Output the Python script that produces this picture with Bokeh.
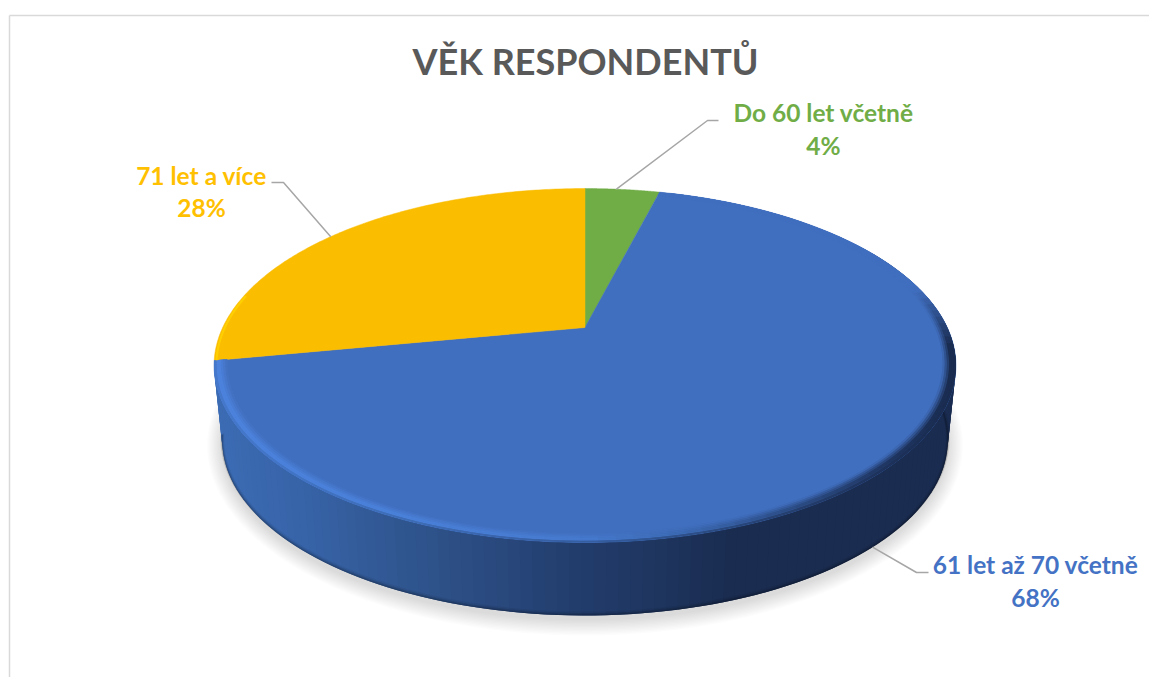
import numpy as np
from bokeh.plotting import figure
from bokeh.embed import file_html
from bokeh.resources import INLINE
from bokeh.core.properties import value

title = "VĚK RESPONDENTŮ"
categories = ["Do 60 let včetně", "61 let až 70 včetně", "71 let a více"]
shares = [4, 68, 28]
top_colors = ["#70ad47", "#416fbf", "#fbbd00"]
label_colors = ["#70ad47", "#4472c4", "#ffc000"]

# label layout: centre x, first-line y, second-line y, leader elbow, leader end
label_x = [823, 1035, 201]
label_y1 = [112, 564, 175]
label_y2 = [145, 597, 207]
elbow_x = [707, 916, 283]
elbow_y = [120, 572, 182]
end_x = [718, 928, 271]
anchor_frac = [0.42, 0.5, 0.479]

W, H = 1149, 677
p = figure(width=W, height=H, x_range=(0, W), y_range=(H, 0),
           output_backend="svg", toolbar_location=None, min_border=0,
           outline_line_color=None, background_fill_color="white", border_fill_color="white")
p.axis.visible = False
p.grid.visible = False

# projection of the tilted disc
CX, Y0, K = 584.5, 327.0, 0.2147
A, B = 362.3, 168.8
BASE_SX, BASE_SY, BASE_Y0 = 0.978, 0.989, 402.4


def top_pt(theta, r=1.0):
    u, v = r * np.sin(theta), r * np.cos(theta)
    w = 1 + K * v
    return CX + A * u / w, Y0 - B * v / w


def base_pt(theta):
    u, v = np.sin(theta), np.cos(theta)
    w = 1 + K * v
    return CX + BASE_SX * A * u / w, BASE_Y0 - BASE_SY * B * v / w


def h2rgb(h):
    return np.array([int(h[i:i + 2], 16) for i in (1, 3, 5)], dtype=float)


def rgb2h(c):
    return "#%02x%02x%02x" % tuple(int(round(x)) for x in c)


def ramp(x, xs, cols):
    arr = np.array([h2rgb(c) for c in cols])
    return np.array([np.interp(x, xs, arr[:, i]) for i in range(3)])


side_x = [222, 300, 400, 480, 584, 650, 720, 955]
side_c = ["#3c6cb4", "#3763a8", "#30568f", "#2a4a80", "#213b69", "#1e355f", "#1a2c50", "#1a2c50"]
bev_x = [213, 400, 584, 700, 800, 900, 955]
bev_c = ["#4c82dc", "#4a80d8", "#467ace", "#3a66ae", "#2c4c84", "#1f3560", "#1a2c50"]

# frame lines
p.line([9, 9], [15, 677], line_color="#d9d9d9", line_width=1.5)
p.line([9, 1149], [15, 15], line_color="#d9d9d9", line_width=1.5)

# soft shadow
ang = np.linspace(0, 2 * np.pi, 241)
for k in np.linspace(15, 0, 12):
    p.patch(CX + (363 + k) * np.sin(ang), 445 + (175 + k) * np.cos(ang),
            fill_color="black", fill_alpha=0.0125, line_color=None)

# slice boundaries (clockwise from 12 o'clock)
edges = np.cumsum([0] + shares) / sum(shares) * 2 * np.pi

# side wall of the large slice: overlapping strips, so that no seams show
th = np.linspace(np.radians(60), edges[2], 130)
xs, ys, cs = [], [], []
for j in range(len(th) - 1):
    a, b = th[j], th[min(j + 2, len(th) - 1)]
    x1, y1 = top_pt(a)
    x2, y2 = top_pt(b)
    x3, y3 = base_pt(b)
    x4, y4 = base_pt(a)
    xs.append([x1, x2, x3, x4])
    ys.append([y1, y2, y3, y4])
    cs.append(rgb2h(ramp((x3 + x4) / 2, side_x, side_c)))
p.patches(xs, ys, fill_color=cs, line_color=None)

# darker lower lip of the wall
bx, by = base_pt(th)
for lw, al in [(4, 0.06), (2.5, 0.10), (1.2, 0.14)]:
    p.line(bx, by - lw / 2, line_color="black", line_alpha=al, line_width=lw)

# flat top slices
for i in range(3):
    t = np.linspace(edges[i], edges[i + 1], 160)
    x, y = top_pt(t)
    p.patch(np.r_[CX, x], np.r_[Y0, y], fill_color=top_colors[i],
            line_color=top_colors[i], line_width=0.5)

# bevel along the front rim of the large slice, inner band first
n_r = 6
radii = np.linspace(0.966, 1.0, n_r + 1)
th2 = np.linspace(edges[1], edges[2], 110)
xs, ys, cs = [], [], []
blue = h2rgb(top_colors[1])
for i in range(n_r):
    f = (i + 0.5) / n_r
    for j in range(len(th2) - 1):
        a, b = th2[j], th2[min(j + 2, len(th2) - 1)]
        m = (th2[j] + th2[j + 1]) / 2
        wgt = np.clip((0.25 - np.cos(m)) / 0.35, 0, 1)
        mx, _ = top_pt(m)
        bev = ramp(mx, bev_x, bev_c)
        sd = ramp(mx, side_x, side_c)
        col = blue + (bev - blue) * min(1, f * 1.7)
        if i == n_r - 1:
            col = 0.55 * col + 0.45 * sd
        col = blue + (col - blue) * wgt
        r_in, r_out = radii[i], radii[min(i + 2, n_r)]
        x1, y1 = top_pt(a, r_in)
        x2, y2 = top_pt(b, r_in)
        x3, y3 = top_pt(b, r_out)
        x4, y4 = top_pt(a, r_out)
        xs.append([x1, x2, x3, x4])
        ys.append([y1, y2, y3, y4])
        cs.append(rgb2h(col))
p.patches(xs, ys, fill_color=cs, line_color=None)

# small bright rim on the yellow slice
ty = np.linspace(edges[2], edges[2] + np.radians(22), 30)
x, y = top_pt(ty, 0.994)
p.line(x, y, line_color="#ffd000", line_width=2)

# leaders and labels
for i, cat in enumerate(categories):
    m = edges[i] + (edges[i + 1] - edges[i]) * anchor_frac[i]
    sx, sy = base_pt(m) if i == 1 else top_pt(m)
    p.line([sx, elbow_x[i], end_x[i]], [sy, elbow_y[i], elbow_y[i]],
           line_color="#a6a6a6", line_width=1.5)
    p.text([label_x[i]], [label_y1[i]], text=[cat], text_color=label_colors[i],
           text_font=value("Lato"), text_font_style="bold", text_font_size="24.5px",
           text_align="center", text_baseline="middle")
    p.text([label_x[i]], [label_y2[i]], text=[f"{shares[i]}%"], text_color=label_colors[i],
           text_font=value("Lato"), text_font_style="bold", text_font_size="24.5px",
           text_align="center", text_baseline="middle")

p.text([585], [60], text=[title], text_color="#595959", text_font=value("Lato"),
       text_font_style="bold", text_font_size="36px", text_align="center", text_baseline="middle")

open("out.html", "w").write(file_html(p, INLINE))
